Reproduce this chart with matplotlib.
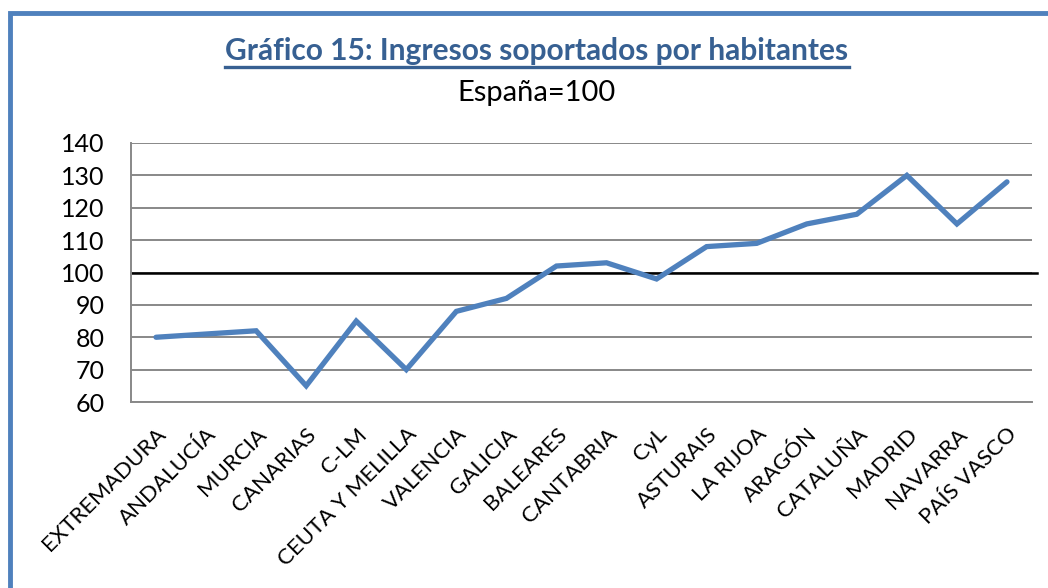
import matplotlib.pyplot as plt
from matplotlib.lines import Line2D
from matplotlib.patches import Rectangle

# =======================
# DATA
# =======================
regiones = ["EXTREMADURA", "ANDALUCÍA", "MURCIA", "CANARIAS", "C-LM",
            "CEUTA Y MELILLA", "VALENCIA", "GALICIA", "BALEARES", "CANTABRIA",
            "CyL", "ASTURAIS", "LA RIJOA", "ARAGÓN", "CATALUÑA", "MADRID",
            "NAVARRA", "PAÍS VASCO"]
ingresos = [80, 81, 82, 65, 85, 70, 88, 92, 102, 103, 98, 108, 109, 115, 118,
            130, 115, 128]
referencia = 100
y_ticks = [60, 70, 80, 90, 100, 110, 120, 130, 140]

TITLE = "Gráfico 15: Ingresos soportados por habitantes"
SUBTITLE = "España=100"

BLUE = "#4F81BD"
TITLE_BLUE = "#376092"
GRID = "#888888"

W, H = 1048, 588
plt.rcParams["font.family"] = ["Lato", "DejaVu Sans"]

fig = plt.figure(figsize=(W / 100, H / 100), dpi=100)

# outer blue frame (right and bottom edges fall outside the picture)
fig.patches.append(Rectangle((10 / W, -0.05), 1.1, (H - 13) / H + 0.05,
                             transform=fig.transFigure, fill=False,
                             edgecolor=BLUE, linewidth=3.5))

ax = fig.add_axes([131 / W, 1 - 402 / H, (1032 - 131) / W, (402 - 143) / H])
x = list(range(len(regiones)))
ax.plot(x, ingresos, color=BLUE, linewidth=3.8, solid_capstyle="round",
        solid_joinstyle="miter", zorder=3)
ax.axhline(referencia, xmin=0, xmax=1.006, color="black", linewidth=1.8,
           clip_on=False, zorder=2)

ax.set_xlim(-0.5, len(regiones) - 0.5)
ax.set_ylim(60, 140)
ax.set_yticks(y_ticks)
ax.set_yticklabels([str(v) for v in y_ticks], fontsize=18)
ax.yaxis.grid(True, color=GRID, linewidth=1.4)
ax.set_axisbelow(True)
ax.tick_params(axis="y", length=0, pad=19)
ax.tick_params(axis="x", length=0, pad=16)
ax.set_xticks(x)
ax.set_xticklabels(regiones, rotation=45, ha="right", va="top",
                   rotation_mode="anchor", fontsize=16)
for side in ["top", "right"]:
    ax.spines[side].set_visible(False)
for side in ["left", "bottom"]:
    ax.spines[side].set_color(GRID)
    ax.spines[side].set_linewidth(1.4)

# title with underline
t = fig.text(537 / W, 1 - 51 / H, TITLE, ha="center", va="center",
             fontsize=21.5, fontweight="bold", color=TITLE_BLUE)
fig.text(537 / W, 1 - 93 / H, SUBTITLE, ha="center", va="center",
         fontsize=21, color="black")

fig.canvas.draw()
bb = t.get_window_extent(renderer=fig.canvas.get_renderer())
fig.lines.append(Line2D([bb.x0 / W, bb.x1 / W], [(H - 67) / H, (H - 67) / H],
                        transform=fig.transFigure, color=TITLE_BLUE,
                        linewidth=2.4))

fig.savefig("out.png", dpi=100)
